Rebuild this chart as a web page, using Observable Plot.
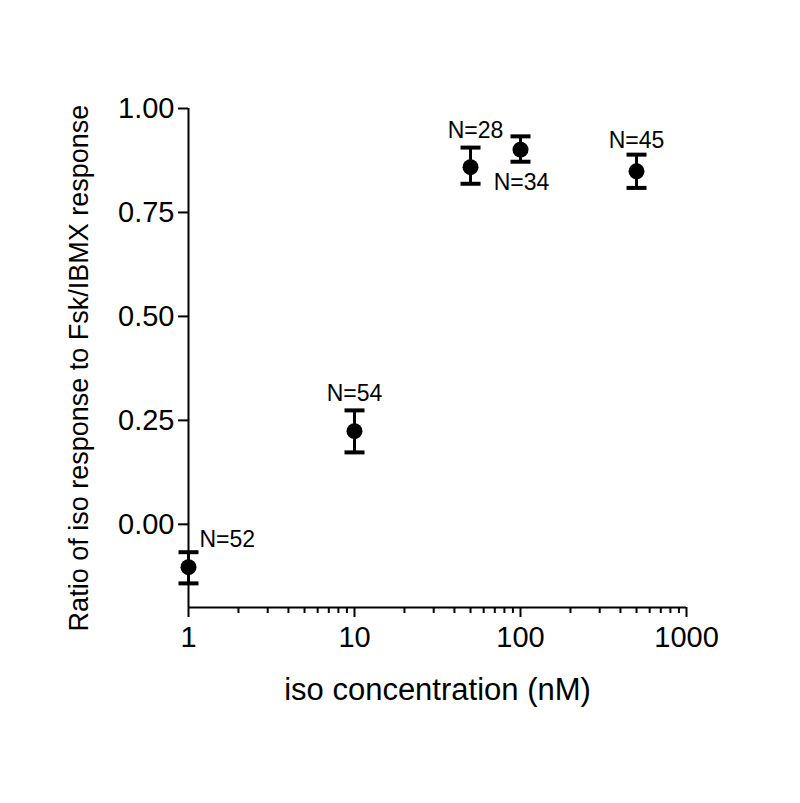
<!DOCTYPE html>
<html>
<head>
<meta charset="utf-8">
<script src="https://cdn.jsdelivr.net/npm/d3@7"></script>
<script src="https://cdn.jsdelivr.net/npm/@observablehq/plot@0.6"></script>
<style>
  html, body { margin: 0; padding: 0; background: #ffffff; }
  #chart { width: 800px; height: 803px; }
</style>
</head>
<body>
<div id="chart"></div>
<script>
// --- data ---
const conc = [1, 10, 50, 100, 500];                 // iso concentration (nM)
const ratio = [-0.103, 0.224, 0.859, 0.901, 0.849]; // mean ratio
const errLow = [-0.142, 0.173, 0.819, 0.872, 0.809];
const errHigh = [-0.067, 0.274, 0.906, 0.933, 0.889];
const nLabels = ["N=52", "N=54", "N=28", "N=34", "N=45"];

// --- axis ticks ---
const yTicks = [0, 0.25, 0.5, 0.75, 1];
const xTicks = [1, 10, 100, 1000];
const xMinorTicks = [2, 3, 4, 5, 6, 7, 8, 9, 20, 30, 40, 50, 60, 70, 80, 90, 200, 300, 400, 500, 600, 700, 800, 900];

const yTitle = "Ratio of iso response to Fsk/IBMX response";
const xTitle = "iso concentration (nM)";

const data = conc.map((c, i) => ({conc: c, ratio: ratio[i], lo: errLow[i], hi: errHigh[i], n: nLabels[i]}));
const byLabel = (lab) => data.filter(d => d.n === lab);

const capSymbol = {
  draw(context) {
    context.moveTo(-10, 0);
    context.lineTo(10, 0);
  }
};

const font = "'Liberation Sans', Arial, Helvetica, sans-serif";

const chart = Plot.plot({
  width: 800,
  height: 803,
  marginLeft: 188,
  marginRight: 114,
  marginTop: 108,
  marginBottom: 196,
  style: {background: "#ffffff", fontFamily: font, fontSize: "29px", color: "#000", overflow: "visible"},
  x: {type: "log", domain: [1, 1000]},
  y: {domain: [-0.2, 1]},
  marks: [
    // axis lines
    Plot.ruleX([1], {y1: -0.2, y2: 1, stroke: "#000", strokeWidth: 2}),
    Plot.ruleY([-0.2], {x1: 1, x2: 1000, stroke: "#000", strokeWidth: 2}),
    // y axis ticks + labels
    Plot.axisY({ticks: yTicks, tickSize: 10, tickPadding: 4, tickFormat: d => d.toFixed(2),
      fontSize: 29, strokeWidth: 2, label: null, fill: "#000", stroke: "#000"}),
    // x axis major ticks + labels
    Plot.axisX({ticks: xTicks, tickSize: 10, tickPadding: 9, tickFormat: d => String(d),
      fontSize: 29, strokeWidth: 2, label: null, fill: "#000", stroke: "#000"}),
    // x axis minor ticks
    Plot.axisX({ticks: xMinorTicks, tickSize: 6, tickFormat: () => "", strokeWidth: 2, label: null, stroke: "#000"}),
    // error bars
    Plot.ruleX(data, {x: "conc", y1: "lo", y2: "hi", stroke: "#000", strokeWidth: 3}),
    Plot.dot(data, {x: "conc", y: "hi", symbol: capSymbol, stroke: "#000", strokeWidth: 4, fill: "none"}),
    Plot.dot(data, {x: "conc", y: "lo", symbol: capSymbol, stroke: "#000", strokeWidth: 4, fill: "none"}),
    // means
    Plot.dot(data, {x: "conc", y: "ratio", r: 8, fill: "#000", stroke: "none"}),
    // N labels
    Plot.text(byLabel("N=52"), {x: "conc", y: "hi", text: "n", textAnchor: "start", lineAnchor: "bottom", dx: 11, dy: -5, fontSize: 23, fill: "#000"}),
    Plot.text(byLabel("N=54"), {x: "conc", y: "hi", text: "n", textAnchor: "middle", lineAnchor: "bottom", dx: 0, dy: -9, fontSize: 23, fill: "#000"}),
    Plot.text(byLabel("N=28"), {x: "conc", y: "hi", text: "n", textAnchor: "middle", lineAnchor: "bottom", dx: 5, dy: -10, fontSize: 23, fill: "#000"}),
    Plot.text(byLabel("N=34"), {x: "conc", y: "lo", text: "n", textAnchor: "middle", lineAnchor: "bottom", dx: 1, dy: 28, fontSize: 23, fill: "#000"}),
    Plot.text(byLabel("N=45"), {x: "conc", y: "hi", text: "n", textAnchor: "middle", lineAnchor: "bottom", dx: 0, dy: -7, fontSize: 23, fill: "#000"}),
    // axis titles
    Plot.text([xTitle], {frameAnchor: "bottom", lineAnchor: "bottom", dy: 92, fontSize: 31, fill: "#000"}),
    Plot.text([yTitle], {frameAnchor: "left", rotate: -90, lineAnchor: "bottom", textAnchor: "middle", dx: -101, dy: 10, fontSize: 27, fill: "#000"})
  ]
});

document.getElementById("chart").appendChild(chart);
</script>
</body>
</html>
